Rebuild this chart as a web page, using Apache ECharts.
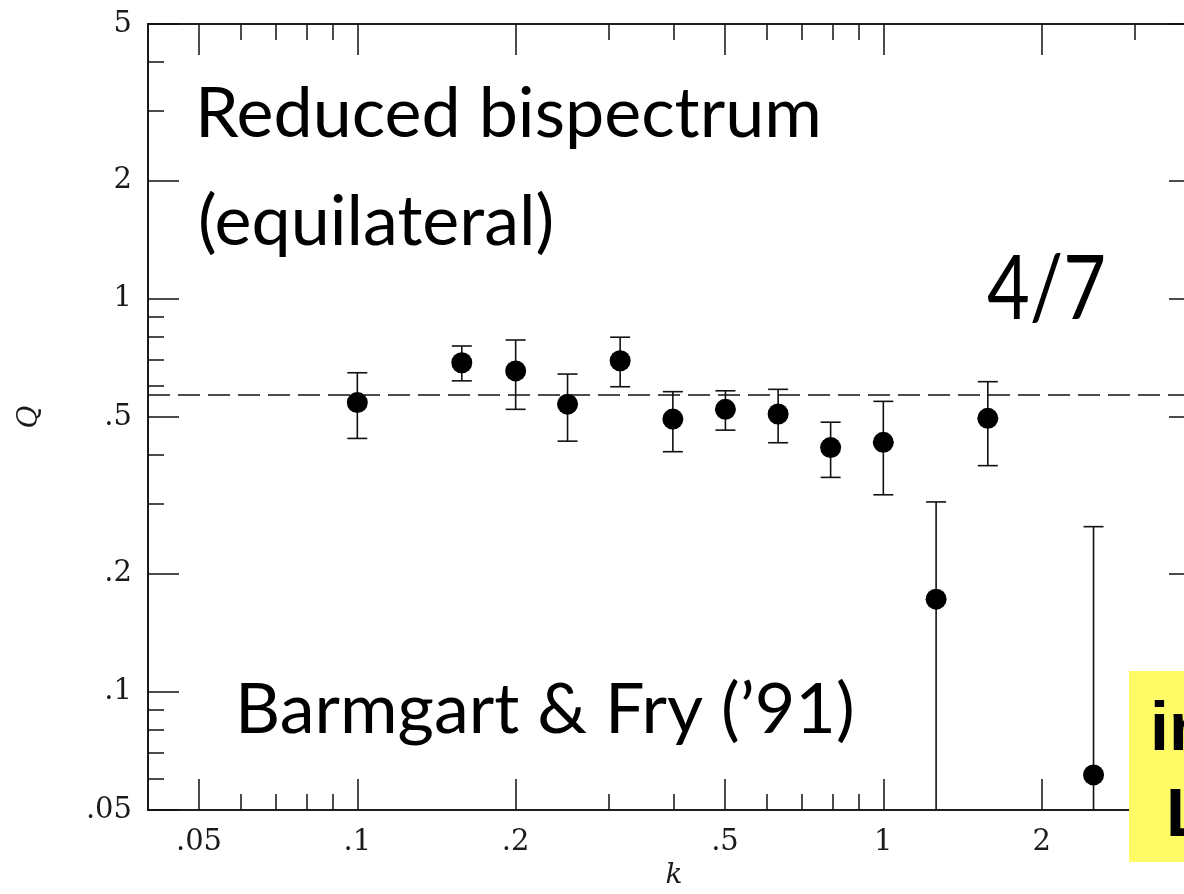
<!DOCTYPE html>
<html>
<head>
<meta charset="utf-8">
<script src="https://cdn.jsdelivr.net/npm/echarts@6/dist/echarts.min.js"></script>
<style>
html,body{margin:0;padding:0;background:#fff;}
#c{width:1184px;height:894px;}
</style>
</head>
<body>
<div id="c"></div>
<script>
// ---- data ----
const kValues = [0.1, 0.158, 0.2, 0.251, 0.316, 0.398, 0.501, 0.631, 0.794, 1.0, 1.26, 1.58, 2.51];
const qValues = [0.544, 0.687, 0.655, 0.539, 0.695, 0.494, 0.523, 0.509, 0.418, 0.431, 0.172, 0.496, 0.0614];
const qUpper  = [0.648, 0.758, 0.785, 0.643, 0.798, 0.580, 0.583, 0.588, 0.485, 0.548, 0.304, 0.615, 0.263];
const qLower  = [0.441, 0.618, 0.523, 0.434, 0.597, 0.408, 0.463, 0.430, 0.351, 0.317, 0.04, 0.376, 0.04];
const refLine = 4 / 7;

const xMajorTicks = [0.05, 0.1, 0.2, 0.5, 1, 2];
const xTickLabels = ['.05', '.1', '.2', '.5', '1', '2'];
const xMinorTicks = [0.06, 0.07, 0.08, 0.09, 0.3, 0.4, 0.6, 0.7, 0.8, 0.9, 3];
const yMajorTicks = [0.05, 0.1, 0.2, 0.5, 1, 2, 5];
const yTickLabels = ['.05', '.1', '.2', '.5', '1', '2', '5'];
const yMinorTicks = [0.06, 0.07, 0.08, 0.09, 0.3, 0.4, 0.6, 0.7, 0.8, 0.9, 3, 4];

const INK = '#111';

function labelFor(ticks, labels) {
  return function (v) {
    for (let i = 0; i < ticks.length; i++) {
      if (Math.abs(Math.log10(v) - Math.log10(ticks[i])) < 0.005) return labels[i];
    }
    return '';
  };
}

function makeX(pos, major, withLabels) {
  return {
    type: 'log', logBase: 10, min: 0.04, max: 4, position: pos,
    axisLine: { show: true, onZero: false, lineStyle: { color: INK, width: 1.6 } },
    axisTick: { show: true, inside: true, length: major ? 31 : 16,
      customValues: major ? xMajorTicks : xMinorTicks, lineStyle: { color: INK, width: 1.5 } },
    axisLabel: withLabels ? { show: true, customValues: xMajorTicks, formatter: labelFor(xMajorTicks, xTickLabels),
      margin: 18, color: '#1a1a1a', fontFamily: 'DejaVu Serif', fontSize: 29 } : { show: false },
    splitLine: { show: false }, minorTick: { show: false }, minorSplitLine: { show: false },
    name: withLabels ? 'k' : '', nameLocation: 'middle', nameGap: 52,
    nameTextStyle: { fontFamily: 'DejaVu Serif', fontStyle: 'italic', fontSize: 28, color: '#1a1a1a' }
  };
}
function makeY(pos, major, withLabels) {
  return {
    type: 'log', logBase: 10, min: 0.05, max: 5, position: pos,
    axisLine: { show: true, onZero: false, lineStyle: { color: INK, width: 1.6 } },
    axisTick: { show: true, inside: true, length: major ? 31 : 16,
      customValues: major ? yMajorTicks : yMinorTicks, lineStyle: { color: INK, width: 1.5 } },
    axisLabel: withLabels ? { show: true, customValues: yMajorTicks, formatter: labelFor(yMajorTicks, yTickLabels),
      margin: 16, color: '#1a1a1a', fontFamily: 'DejaVu Serif', fontSize: 29 } : { show: false },
    splitLine: { show: false }, minorTick: { show: false }, minorSplitLine: { show: false },
    name: withLabels ? 'Q' : '', nameLocation: 'middle', nameGap: 104,
    nameTextStyle: { fontFamily: 'DejaVu Serif', fontStyle: 'italic', fontSize: 28, color: '#1a1a1a' }
  };
}

const errData = kValues.map((k, i) => [k, qLower[i], qUpper[i]]);
const ptData = kValues.map((k, i) => [k, qValues[i]]);

function txt(text, x, y, size, opts) {
  opts = opts || {};
  return {
    type: 'text', x: x, y: y, z: opts.z || 10, scaleX: opts.sx || 1,
    style: { text: text, fontFamily: opts.font || 'Lato', fontWeight: opts.weight || 'normal',
      fontSize: size, fill: '#000', verticalAlign: 'top', align: 'left' }
  };
}

const chart = echarts.init(document.getElementById('c'), null, { renderer: 'canvas' });
chart.setOption({
  backgroundColor: '#ffffff',
  animation: false,
  grid: { left: 148, top: 24, width: 1052, height: 786, containLabel: false, outerBoundsMode: 'none' },
  xAxis: [makeX('bottom', true, true), makeX('bottom', false, false), makeX('top', true, false), makeX('top', false, false)],
  yAxis: [makeY('left', true, true), makeY('left', false, false), makeY('right', true, false), makeY('right', false, false)],
  series: [
    {
      type: 'custom', xAxisIndex: 0, yAxisIndex: 0, data: errData, z: 3, clip: true,
      renderItem: function (params, api) {
        const x = api.value(0), lo = api.value(1), hi = api.value(2);
        const pLo = api.coord([x, lo]);
        const pHi = api.coord([x, hi]);
        const cap = 10;
        const st = { stroke: INK, lineWidth: 1.6 };
        const cs = params.coordSys;
        return {
          type: 'group',
          clipPath: { type: 'rect', shape: { x: cs.x, y: cs.y, width: cs.width, height: cs.height } },
          children: [
            { type: 'line', shape: { x1: pHi[0], y1: pHi[1], x2: pLo[0], y2: pLo[1] }, style: st },
            { type: 'line', shape: { x1: pHi[0] - cap, y1: pHi[1], x2: pHi[0] + cap, y2: pHi[1] }, style: st },
            { type: 'line', shape: { x1: pLo[0] - cap, y1: pLo[1], x2: pLo[0] + cap, y2: pLo[1] }, style: st }
          ]
        };
      }
    },
    {
      type: 'scatter', xAxisIndex: 0, yAxisIndex: 0, data: ptData, z: 4,
      symbol: 'circle', symbolSize: 21,
      itemStyle: { color: '#000', opacity: 1 },
      markLine: {
        silent: true, symbol: ['none', 'none'], label: { show: false },
        lineStyle: { color: INK, width: 1.5, type: [22, 8] },
        data: [{ yAxis: refLine }]
      }
    }
  ],
  graphic: [
    txt('Reduced bispectrum', 195, 79, 70),
    txt('(equilateral)', 198, 187, 70),
    txt('4/7', 987, 245, 90, { sx: 0.82 }),
    txt('Barmgart & Fry (\u201991)', 235, 675, 70),
    { type: 'rect', x: 1129, y: 671, z: 9, shape: { x: 0, y: 0, width: 120, height: 191 }, style: { fill: '#fffb66' } },
    txt('in', 1150, 697, 68, { font: 'Liberation Sans', weight: 'bold', z: 11 }),
    txt('L', 1166, 783, 68, { font: 'Liberation Sans', weight: 'bold', z: 11 })
  ]
});
</script>
</body>
</html>
